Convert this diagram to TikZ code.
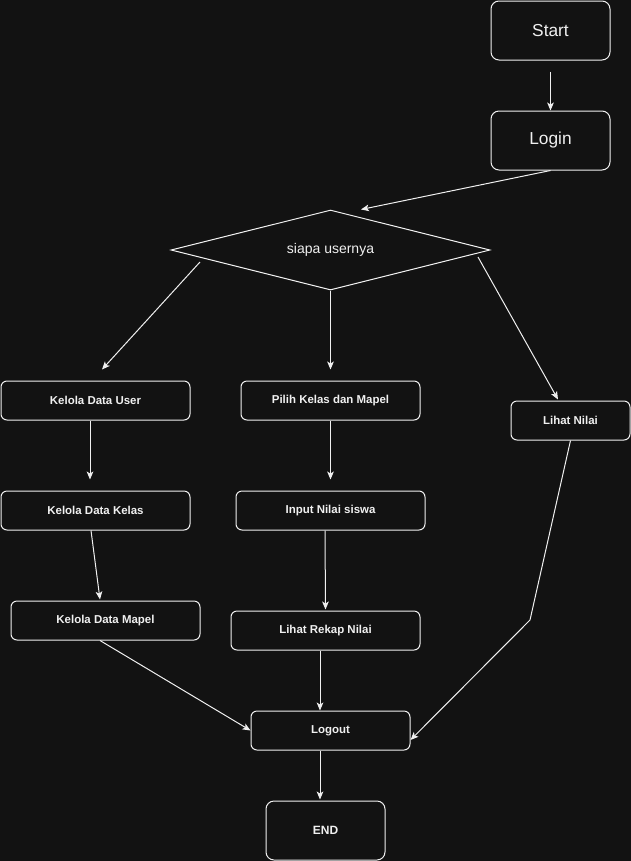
\documentclass[tikz,border=0pt]{standalone}
\usepackage{fontspec}
\setmainfont{Liberation Sans}
\usetikzlibrary{shapes.geometric,arrows.meta,calc}
\definecolor{canvas}{HTML}{121212}
\definecolor{ink}{HTML}{F0F0F0}
\begin{document}
\begin{tikzpicture}[x=0.75pt,y=-0.75pt,
  box/.style={draw=ink,fill=canvas,text=ink,line width=0.75pt,rounded corners=4.5pt,
    inner sep=0pt,font=\bfseries\fontsize{8.6pt}{10pt}\selectfont},
  bigbox/.style={box,rounded corners=6pt,minimum width={119*0.75pt},minimum height={59*0.75pt},
    font=\fontsize{13pt}{15pt}\selectfont},
  decide/.style={diamond,draw=ink,fill=canvas,line width=0.75pt,inner sep=0pt,
    minimum width={319*0.75pt},minimum height={80*0.75pt}},
  decidetext/.style={text=ink,font=\fontsize{10.5pt}{12pt}\selectfont},
  flow/.style={draw=ink,line width=0.75pt,-{Stealth[length=6pt,width=5pt,inset=1.5pt]}}]
\fill[canvas] (0,0) rectangle (631,861);
\useasboundingbox (0,0) rectangle (631,861);

% start and login
\node[bigbox] (start) at (550.5,30.5) {Start};
\node[bigbox] (login) at (550.5,140.5) {Login};

% role decision
\node[decide,label={[decidetext]center:siapa usernya}] (who) at (330.5,250) {};

% admin branch
\node[box,minimum width={189*0.75pt},minimum height={39*0.75pt}] (kuser) at (95.5,400.5) {Kelola Data User};
\node[box,minimum width={189*0.75pt},minimum height={39*0.75pt}] (kkelas) at (95.5,510.5) {Kelola Data Kelas};
\node[box,minimum width={189*0.75pt},minimum height={39*0.75pt}] (kmapel) at (105.5,620.5) {Kelola Data Mapel};

% teacher branch
\node[box,minimum width={179*0.75pt},minimum height={39*0.75pt}] (pilih) at (330.5,400.5) {Pilih Kelas dan Mapel};
\node[box,minimum width={189*0.75pt},minimum height={39*0.75pt}] (input) at (330.5,510.5) {Input Nilai siswa};
\node[box,minimum width={189*0.75pt},minimum height={39*0.75pt}] (rekap) at (325.5,630.5) {Lihat Rekap Nilai};

% student branch
\node[box,minimum width={119*0.75pt},minimum height={39*0.75pt}] (lihat) at (570.5,420.5) {Lihat Nilai};

% end
\node[bigbox,font=\bfseries\fontsize{9pt}{11pt}\selectfont] (finish) at (325.5,830.5) {END};
\node[box,minimum width={159*0.75pt},minimum height={39*0.75pt}] (logout) at (330.5,730.5) {Logout};

\coordinate (bend) at (530,620);

% connectors
\draw[flow] ($(start.south)+(0,11)$) -- (login.north);
\draw[flow] (login.south) -- ($(who.north)+(30.5,0)$);
\draw[flow] ($(who.center)+(-130.5,12)$) -- ($(kuser.north)+(6.5,-11)$);
\draw[flow] (who.south) -- ($(pilih.north)+(0,-11)$);
\draw[flow] ($(who.center)+(147.5,7)$) -- ($(lihat.north)+(-12.5,-1)$);
\draw[flow] ($(kuser.south)+(-5.5,0)$) -- ($(kkelas.north)+(-5.5,-11)$);
\draw[flow] ($(kkelas.south)+(-4.5,0)$) -- ($(kmapel.north)+(-5.5,-1)$);
\draw[flow] (pilih.south) -- ($(input.north)+(0,-11)$);
\draw[flow] ($(input.south)+(-5.5,0)$) -- ($(rekap.north)+(0,-1)$);
\draw[flow] ($(kmapel.south)+(-5.5,0)$) -- (logout.west);
\draw[flow] ($(rekap.south)+(-5.5,0)$) -- ($(logout.north)+(-10.5,0)$);
\draw[flow] (lihat.south) -- (bend) -- ($(logout.east)+(0,9.5)$);
\draw[flow] ($(logout.south)+(-10.5,0)$) -- ($(finish.north)+(-5.5,-1)$);
\end{tikzpicture}
\end{document}
